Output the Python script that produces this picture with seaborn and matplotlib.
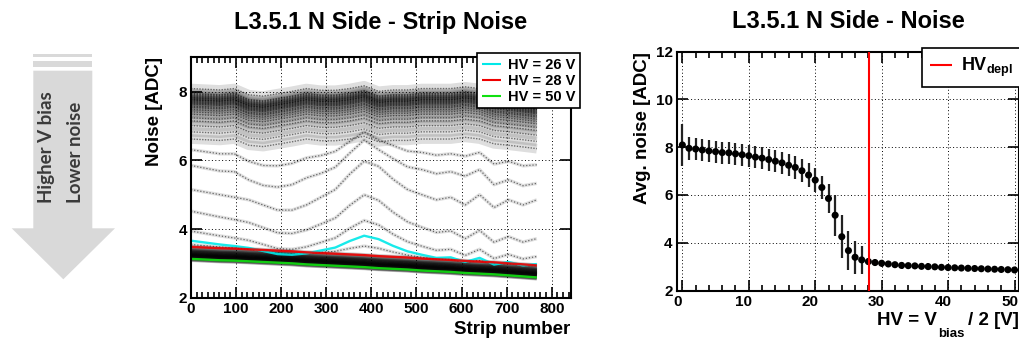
import pandas as pd
import seaborn as sns
import matplotlib.pyplot as plt
from matplotlib.patches import Polygon, Rectangle
from matplotlib.lines import Line2D
from matplotlib.ticker import MultipleLocator
from matplotlib.transforms import ScaledTranslation

# HV scan (HV = V_bias / 2) and average noise per setting
hv_scan = list(range(51))
avg_noise = [8.09, 7.95, 7.92, 7.88, 7.84, 7.81, 7.77, 7.76, 7.72, 7.68,
             7.64, 7.58, 7.54, 7.48, 7.41, 7.34, 7.24, 7.15, 7.01, 6.83,
             6.62, 6.31, 5.85, 5.15, 4.25, 3.67, 3.39, 3.28, 3.21, 3.17,
             3.14, 3.11, 3.08, 3.05, 3.04, 3.03, 3.01, 3.00, 2.99, 2.97,
             2.96, 2.95, 2.94, 2.93, 2.92, 2.91, 2.90, 2.89, 2.88, 2.87, 2.86]
noise_err = [0.88, 0.47, 0.46, 0.46, 0.46, 0.46, 0.46, 0.46, 0.46, 0.46,
             0.46, 0.46, 0.46, 0.46, 0.46, 0.47, 0.47, 0.48, 0.48, 0.49,
             0.50, 0.50, 0.60, 0.85, 0.90, 0.80, 0.70, 0.60, 0.15, 0.14,
             0.14, 0.13, 0.13, 0.13, 0.13, 0.13, 0.13, 0.13, 0.13, 0.13,
             0.13, 0.13, 0.13, 0.13, 0.12, 0.12, 0.12, 0.12, 0.12, 0.12, 0.12]
hv_depl = 28.1

# strip profile anchors (offset from the average noise)
strip_anchor = [0, 32, 64, 96, 128, 160, 192, 224, 256, 288, 320, 352, 384,
                416, 448, 480, 512, 544, 576, 608, 640, 672, 704, 736, 767]
top_shape = [0.0, -0.02, -0.04, 0.0, -0.18, -0.22, -0.15, -0.08, 0.0, -0.05, -0.05, 0.0, 0.08,
             -0.08, -0.04, -0.04, 0.0, 0.0, 0.0, 0.05, 0.0, -0.14, -0.18, -0.23, -0.28]
bottom_shape = [0.27, 0.25, 0.23, 0.22, 0.2, 0.18, 0.16, 0.14, 0.11, 0.09, 0.07, 0.05, 0.03,
                0.0, -0.02, -0.04, -0.07, -0.09, -0.11, -0.14, -0.16, -0.18, -0.21, -0.24, -0.27]
wave_shape = [0.0, -0.05, -0.1, -0.15, -0.2, -0.3, -0.4, -0.4, -0.3, -0.15, 0.0, 0.3, 0.55,
              0.45, 0.2, 0.0, -0.1, -0.2, -0.15, -0.3, -0.1, -0.35, -0.2, -0.3, -0.2]
wave_weight = {21: 0.8, 22: 1.2, 23: 1.5, 24: 1.3, 25: 1.0, 26: 0.7, 27: 0.35}

highlight_hv = [26, 28, 50]
highlight_labels = ['HV = 26 V', 'HV = 28 V', 'HV = 50 V']
highlight_colors = ['#00e8e8', '#ee0000', '#10e010']

# build long table of strip noise curves
rows = []
for hv, avg in zip(hv_scan, avg_noise):
    w_top = 1.0 if hv <= 22 else 0.0
    w_bot = 1.0 if hv >= 24 else 0.0
    w_wave = wave_weight.get(hv, 0.0)
    if hv <= 20:
        regime = 'undepleted'
    elif hv >= 28:
        regime = 'depleted'
    else:
        regime = 'transition'
    for s, t, b, w in zip(strip_anchor, top_shape, bottom_shape, wave_shape):
        rows.append({'hv': hv, 'strip': s, 'regime': regime,
                     'noise': avg + w_top * t + w_bot * b + w_wave * w})
df = pd.DataFrame(rows)
df_other = df[~df['hv'].isin(highlight_hv)]
df_sel = df[df['hv'].isin(highlight_hv)].copy()
df_sel['label'] = df_sel['hv'].map(dict(zip(highlight_hv, highlight_labels)))

sns.set_style('ticks')
plt.rcParams['font.family'] = ['Liberation Sans', 'DejaVu Sans']
plt.rcParams['font.weight'] = 'bold'
plt.rcParams['text.color'] = 'black'
plt.rcParams['xtick.color'] = 'black'
plt.rcParams['ytick.color'] = 'black'
plt.rcParams['lines.solid_capstyle'] = 'butt'
plt.rcParams['mathtext.fontset'] = 'custom'
plt.rcParams['mathtext.rm'] = 'Liberation Sans:bold'
plt.rcParams['mathtext.bf'] = 'Liberation Sans:bold'
plt.rcParams['mathtext.default'] = 'rm'

W, H = 1020, 340
fig = plt.figure(figsize=(W / 100, H / 100), dpi=100)


def fx(x):
    return x / W


def fy(y):
    return 1 - y / H


ax1 = fig.add_axes([fx(191), fy(297.7), fx(570.7) - fx(191), fy(57.3) - fy(297.7)])
ax2 = fig.add_axes([fx(676.7), fy(290.5), fx(1019.5) - fx(676.7), fy(51.5) - fy(290.5)])

# left panel - strip noise: wide faint strokes show the strip-to-strip spread
undep = df_other[df_other['regime'] == 'undepleted']
trans = df_other[df_other['regime'] == 'transition']
dep = df_other[df_other['regime'] == 'depleted']
sns.lineplot(data=undep, x='strip', y='noise', units='hv', estimator=None,
             color='black', lw=7, alpha=0.13, ax=ax1)
sns.lineplot(data=undep, x='strip', y='noise', units='hv', estimator=None,
             color='black', lw=1.0, alpha=0.5, linestyle=(0, (1, 1)), ax=ax1)
sns.lineplot(data=trans, x='strip', y='noise', units='hv', estimator=None,
             color='black', lw=2.5, alpha=0.12, ax=ax1)
sns.lineplot(data=trans, x='strip', y='noise', units='hv', estimator=None,
             color='black', lw=0.9, alpha=0.55, linestyle=(0, (1, 1.5)), ax=ax1)
sns.lineplot(data=dep, x='strip', y='noise', units='hv', estimator=None,
             color='black', lw=5, alpha=0.2, ax=ax1)
sns.lineplot(data=df_sel, x='strip', y='noise', hue='label', units='hv', estimator=None,
             palette=dict(zip(highlight_labels, highlight_colors)), lw=1.7, alpha=0.9,
             ax=ax1, legend=False)
ax1.set_xlim(0, 842)
ax1.set_ylim(2, 9)
ax1.xaxis.set_major_locator(MultipleLocator(100))
ax1.xaxis.set_minor_locator(MultipleLocator(12.5))
ax1.yaxis.set_major_locator(MultipleLocator(2))
ax1.set_xlabel('')
ax1.set_ylabel('')

handles = [Line2D([], [], color=c, lw=1.5) for c in highlight_colors]
leg1 = ax1.legend(handles, highlight_labels, loc='upper right',
                  bbox_to_anchor=(fx(580), fy(53.3)), bbox_transform=fig.transFigure,
                  fancybox=False, framealpha=1, edgecolor='black', fontsize=10.5,
                  handlelength=1.3, handletextpad=0.5, labelspacing=0.15,
                  borderpad=0.3, borderaxespad=0)
leg1.get_frame().set_linewidth(1.2)

# right panel - average noise vs HV
ax2.errorbar(hv_scan, avg_noise, yerr=noise_err, fmt='none', ecolor='#222222',
             elinewidth=1.6, capsize=0, zorder=3)
sns.scatterplot(x=hv_scan, y=avg_noise, color='black', s=26, edgecolor='none', ax=ax2, zorder=4)
ax2.axvline(hv_depl, color='red', lw=1.5, zorder=5)
ax2.set_xlim(-0.85, 50.75)
ax2.set_ylim(2, 12)
ax2.xaxis.set_major_locator(MultipleLocator(10))
ax2.xaxis.set_minor_locator(MultipleLocator(2))
ax2.yaxis.set_major_locator(MultipleLocator(2))
leg2 = ax2.legend([Line2D([], [], color='red', lw=1.5)], [r'HV$_{depl}$'], loc='upper left',
                  bbox_to_anchor=(fx(922), fy(47.7)), bbox_transform=fig.transFigure,
                  fancybox=False, framealpha=1, edgecolor='black', fontsize=13,
                  handlelength=1.2, handletextpad=0.5, borderpad=0.45, borderaxespad=0)
leg2.get_frame().set_linewidth(1.2)

for ax in (ax1, ax2):
    ax.grid(True, which='major', color='black', linestyle=(0, (1, 2.5)), lw=0.7)
    ax.set_axisbelow(True)
    ax.tick_params(which='both', direction='in', top=True, right=True, width=1.2,
                   labelsize=11, pad=3)
    ax.tick_params(which='major', length=8)
    ax.tick_params(which='minor', length=4)
    for sp in ax.spines.values():
        sp.set_linewidth(1.5)
        sp.set_color('black')

# ROOT puts the x labels slightly left of their ticks
shift = ScaledTranslation(-5 / 100, 0, fig.dpi_scale_trans)
for lab in ax2.get_xticklabels():
    lab.set_transform(lab.get_transform() + shift)

# titles and axis labels (ROOT style placement)
fig.text(fx(380.8), fy(22), 'L3.5.1 N Side - Strip Noise', ha='center', va='center',
         fontsize=17, fontweight='bold')
fig.text(fx(848), fy(22), 'L3.5.1 N Side - Noise', ha='center', va='center',
         fontsize=17, fontweight='bold')
fig.text(fx(155), fy(57.3), 'Noise [ADC]', rotation=90, ha='center', va='top',
         fontsize=13.5, fontweight='bold')
fig.text(fx(642.7), fy(51.7), 'Avg. noise [ADC]', rotation=90, ha='center', va='top',
         fontsize=13.5, fontweight='bold')
fig.text(fx(570.7), fy(330), 'Strip number', ha='right', va='center',
         fontsize=13.5, fontweight='bold')
fig.text(fx(937), fy(325), 'HV = V', ha='right', va='baseline', fontsize=13.5, fontweight='bold')
fig.text(fx(951.7), fy(337), 'bias', ha='center', va='baseline', fontsize=9.5, fontweight='bold')
fig.text(fx(1019), fy(325), '/ 2 [V]', ha='right', va='baseline', fontsize=13.5, fontweight='bold')

# gray "higher V bias" arrow on the far left
grey = '#d9d9d9'
arrow = [(33.3, 70.7), (92.3, 70.7), (92.3, 228.3), (115, 228.3), (63.3, 279.3),
         (11.7, 228.3), (33.3, 228.3)]
fig.patches.append(Polygon([(fx(x), fy(y)) for x, y in arrow], closed=True, facecolor=grey,
                           edgecolor='none', transform=fig.transFigure, figure=fig))
for y0, h in [(54.3, 2.4), (61.0, 5.7)]:
    fig.patches.append(Rectangle((fx(33.3), fy(y0 + h)), fx(92.3) - fx(33.3), h / H,
                                 facecolor=grey, edgecolor='none',
                                 transform=fig.transFigure, figure=fig))
fig.text(fx(46.7), fy(203), 'Higher V bias', rotation=90, ha='center', va='bottom',
         fontsize=13.5, fontweight='bold', color='#3a3a3a', family=['Lato', 'DejaVu Sans'])
fig.text(fx(76), fy(203), 'Lower noise', rotation=90, ha='center', va='bottom',
         fontsize=13.5, fontweight='bold', color='#3a3a3a', family=['Lato', 'DejaVu Sans'])

fig.savefig('out.png', dpi=100)
